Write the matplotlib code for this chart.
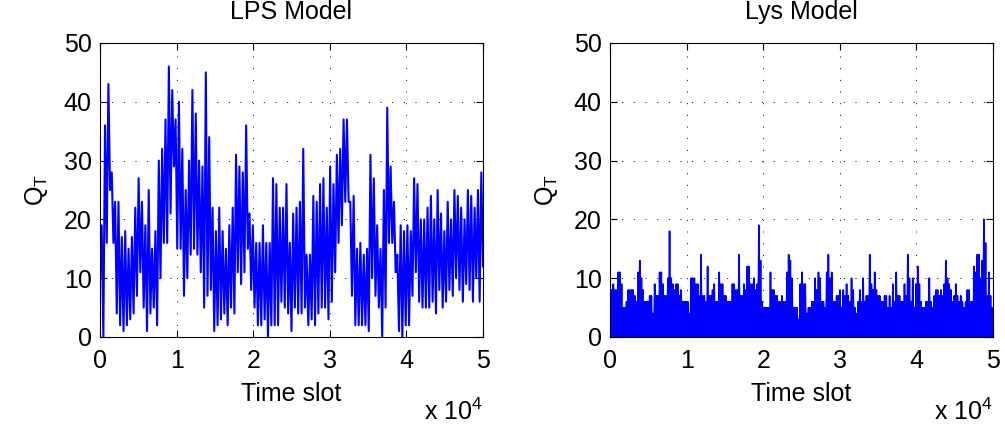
import numpy as np
import matplotlib
matplotlib.use("Agg")
import matplotlib.pyplot as plt

plt.rcParams['font.family'] = ['Liberation Sans', 'DejaVu Sans']

# LPS model: per-bin max / min of Q_T (bins of ~440 slots)
lps_hi = [19, 36, 43, 28, 23, 23, 17, 18, 15, 17, 22, 27, 23, 19, 25, 15, 18, 30, 32, 37, 46, 42, 37,
          40, 32, 25, 30, 42, 38, 30, 29, 45, 34, 22, 18, 22, 18, 15, 19, 22, 31, 29, 28, 36, 21, 19, 16,
          16, 19, 16, 16, 27, 26, 22, 22, 26, 16, 21, 22, 23, 32, 14, 14, 24, 23, 26, 27, 22, 29, 26, 31,
          32, 37, 37, 23, 24, 15, 16, 14, 15, 31, 27, 19, 15, 25, 39, 29, 23, 14, 19, 18, 19, 18, 27, 26, 20, 20,
          22, 24, 20, 25, 21, 18, 23, 20, 25, 24, 22, 20, 25, 24, 22, 25, 28]
lps_lo = [0, 16, 25, 16, 4, 2, 1, 2, 3, 4, 7, 11, 5, 1, 4, 5, 2, 10, 16, 16, 21, 29, 15,
          15, 7, 10, 14, 15, 14, 11, 5, 7, 8, 1, 2, 3, 4, 2, 5, 4, 11, 9, 11, 15, 8, 5, 2,
          2, 3, 0, 2, 2, 2, 6, 5, 4, 1, 5, 4, 4, 5, 2, 3, 2, 4, 5, 5, 3, 6, 11, 16,
          19, 23, 23, 7, 2, 2, 2, 2, 1, 10, 7, 5, 0, 5, 16, 16, 11, 1, 0, 2, 2, 7, 11, 6, 5, 5,
          5, 6, 4, 8, 5, 6, 8, 7, 10, 8, 6, 9, 8, 6, 10, 6, 12]

# Lys model: per-bin max of Q_T (bins of ~215 slots), minimum is 0
lys_hi = [5, 8, 9, 8, 8, 11, 11, 9, 5, 5, 6, 8, 8, 8, 8, 7, 6, 11, 13, 10, 8, 6, 6, 6, 7, 7, 4, 9, 7, 7,
          11, 11, 9, 7, 7, 10, 18, 10, 9, 8, 9, 9, 7, 8, 6, 6, 6, 6, 4, 10, 10, 10, 9, 9, 7, 14, 7, 7, 6, 12,
          7, 7, 8, 9, 6, 6, 11, 9, 9, 7, 7, 6, 6, 6, 9, 9, 8, 8, 14, 7, 7, 9, 8, 12, 12, 9, 9, 10, 8, 9,
          19, 13, 6, 5, 5, 5, 5, 11, 8, 8, 7, 7, 6, 6, 7, 6, 6, 11, 14, 13, 10, 5, 5, 5, 3, 9, 11, 9, 9, 4,
          5, 5, 6, 6, 10, 8, 11, 10, 6, 6, 5, 11, 14, 10, 11, 6, 6, 7, 7, 8, 5, 8, 7, 9, 7, 6, 10, 8, 5, 4,
          6, 8, 6, 10, 6, 7, 7, 14, 9, 8, 11, 8, 7, 7, 6, 6, 7, 7, 5, 7, 5, 9, 6, 11, 7, 7, 6, 6, 9, 7,
          14, 10, 6, 10, 5, 9, 12, 9, 6, 5, 5, 6, 6, 10, 6, 5, 7, 8, 8, 7, 8, 7, 9, 13, 10, 9, 8, 6, 7, 9,
          7, 6, 7, 6, 5, 6, 8, 8, 6, 6, 12, 11, 14, 14, 10, 13, 20, 16, 7, 11, 7, 5]
lys_lo = [0] * len(lys_hi)

x_ticks = [0, 10000, 20000, 30000, 40000, 50000]
x_tick_labels = ['0', '1', '2', '3', '4', '5']
y_ticks = [0, 10, 20, 30, 40, 50]


def zigzag(hi, lo, first=None):
    # interleave max and min of each bin into one line
    vals = []
    for h, l in zip(hi, lo):
        vals += [h, l]
    if first is not None:
        vals = [first] + vals
    t = np.linspace(0, 50000, len(vals))
    return t, vals


fig = plt.figure(figsize=(10.05, 4.25), dpi=100)
ax1 = fig.add_axes([100 / 1005, 88 / 425, 383 / 1005, 294 / 425])
ax2 = fig.add_axes([610 / 1005, 88 / 425, 383 / 1005, 294 / 425])

series = [(ax1, 'LPS Model', zigzag(lps_hi, lps_lo, first=10), 1.5),
          (ax2, 'Lys Model', zigzag(lys_hi, lys_lo), 1.2)]

for ax, title, (t, q), lw in series:
    ax.plot(t, q, color=(0, 0, 1), lw=lw)
    ax.set_xlim(0, 50000)
    ax.set_ylim(0, 50)
    ax.set_xticks(x_ticks)
    ax.set_xticklabels(x_tick_labels)
    ax.set_yticks(y_ticks)
    ax.grid(True, color='black', linestyle=(0, (1, 11)), lw=0.7)
    ax.tick_params(direction='in', length=5, width=0.8, top=True, right=True,
                   labelsize=18)
    ax.tick_params(axis='x', pad=9)
    ax.tick_params(axis='y', pad=6)
    for s in ax.spines.values():
        s.set_linewidth(0.8)
    ax.set_title(title, fontsize=18, pad=17)
    ax.set_xlabel('Time slot', fontsize=18, labelpad=6)
    ax.set_ylabel('Q$_\\mathregular{T}$', fontsize=18, labelpad=10)
    ax.text(1.0, -0.21, 'x 10$^\\mathregular{4}$', transform=ax.transAxes,
            ha='right', va='top', fontsize=18)

fig.savefig('out.png', dpi=100)
